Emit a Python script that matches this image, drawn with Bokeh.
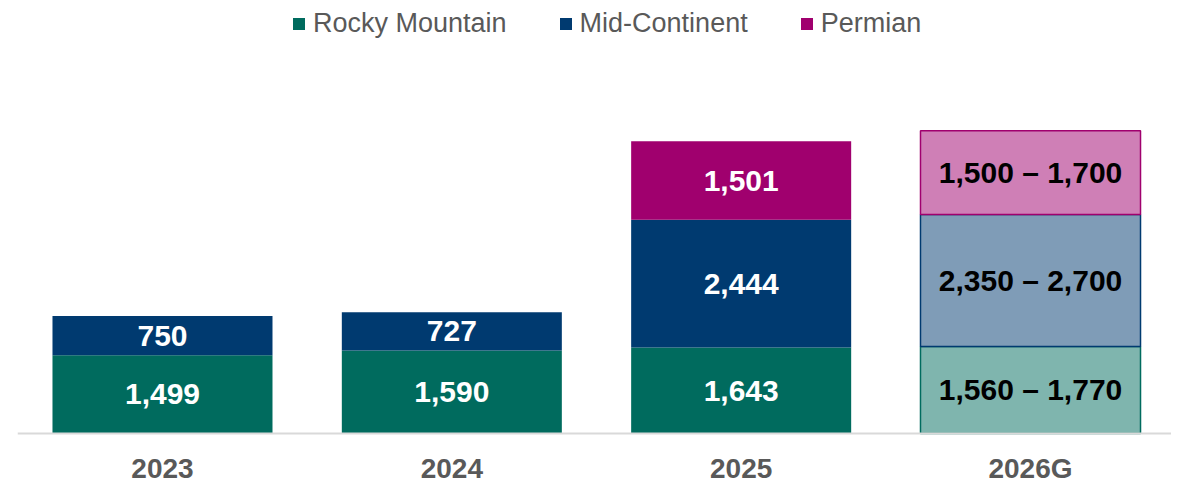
from bokeh.plotting import figure
from bokeh.models import ColumnDataSource, Range1d, Span, Legend, LegendItem
from bokeh.core.properties import value
from bokeh.embed import file_html
from bokeh.resources import INLINE

# ---- data ----
years = ["2023", "2024", "2025", "2026G"]
actual_years = ["2023", "2024", "2025"]
rocky = [1499, 1590, 1643]
mid_continent = [750, 727, 2444]
permian = [0, 0, 1501]
guidance_year = "2026G"
guide_low = [1560, 2350, 1500]    # Rocky, Mid-Continent, Permian
guide_high = [1770, 2700, 1700]
series = ["Rocky Mountain", "Mid-Continent", "Permian"]

dark = ["#006B5E", "#003A70", "#A0006E"]
light = ["#7FB5AE", "#7F9CB7", "#CF7FB6"]
FONT = "Liberation Sans"

xpos = {y: i for i, y in enumerate(years)}

p = figure(width=1171, height=485, output_backend="svg", toolbar_location=None,
           x_range=Range1d(-0.5011, 3.4873), y_range=Range1d(-994.6, 8282.3),
           x_axis_location=None, y_axis_location=None,
           min_border_left=17, min_border_right=0, min_border_top=0, min_border_bottom=0)
p.grid.visible = False
p.outline_line_color = None
p.background_fill_color = "white"

BW = 0.7604

# actual stacked bars
renderers = []
label_x, label_y, label_t = [], [], []
bottoms = [0] * len(actual_years)
for s_i, vals in enumerate([rocky, mid_continent, permian]):
    tops = [b + v for b, v in zip(bottoms, vals)]
    xs = [xpos[y] for y in actual_years]
    src = ColumnDataSource(dict(x=[x for x, v in zip(xs, vals) if v > 0],
                                bottom=[b for b, v in zip(bottoms, vals) if v > 0],
                                top=[t for t, v in zip(tops, vals) if v > 0]))
    r = p.vbar(x="x", bottom="bottom", top="top", width=BW, source=src,
               fill_color=dark[s_i], line_color=None)
    renderers.append(r)
    for x, b, t, v in zip(xs, bottoms, tops, vals):
        if v > 0:
            label_x.append(x); label_y.append((b + t) / 2); label_t.append(f"{v:,}")
    bottoms = tops

p.text(x=label_x, y=label_y, text=label_t, text_color="white",
       text_font=value(FONT), text_font_style="bold", text_font_size="30px",
       text_align="center", text_baseline="middle")

# guidance bar (ranges, drawn at midpoint)
gx = xpos[guidance_year]
b = 0
gl_x, gl_y, gl_t = [], [], []
for s_i, (lo, hi) in enumerate(zip(guide_low, guide_high)):
    mid = (lo + hi) / 2
    p.vbar(x=[gx], bottom=[b], top=[b + mid], width=BW,
           fill_color=light[s_i], line_color=dark[s_i], line_width=1.5)
    gl_x.append(gx); gl_y.append(b + mid / 2); gl_t.append(f"{lo:,} \u2013 {hi:,}")
    b += mid

p.text(x=gl_x, y=gl_y, text=gl_t, text_color="black",
       text_font=value(FONT), text_font_style="bold", text_font_size="30px",
       text_align="center", text_baseline="middle")

# baseline
p.add_layout(Span(location=0, dimension="width", line_color="#D9D9D9", line_width=2))

# category labels
p.text(x=[xpos[y] for y in years], y=[0] * len(years), text=years, y_offset=35,
       text_color="#595959", text_font=value(FONT), text_font_style="bold",
       text_font_size="28px", text_align="center", text_baseline="middle")

legend = Legend(items=[LegendItem(label=s, renderers=[r]) for s, r in zip(series, renderers)],
                orientation="horizontal", location=(274, 446),
                glyph_width=15, glyph_height=15, label_standoff=7, spacing=51,
                padding=0, margin=0, border_line_color=None, background_fill_alpha=0,
                label_text_font=FONT, label_text_font_size="27px", label_text_color="#595959")
p.add_layout(legend)

open("out.html", "w").write(file_html(p, INLINE))
